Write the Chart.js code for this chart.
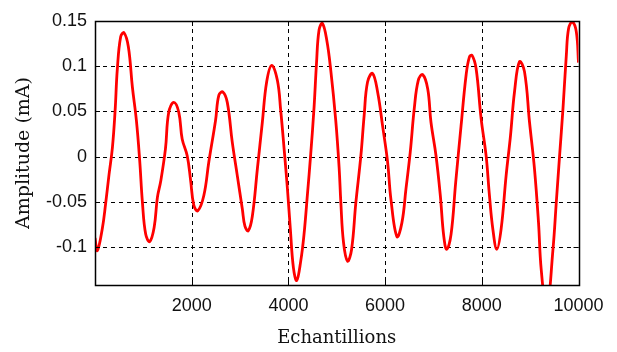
<!DOCTYPE html>
<html>
<head>
<meta charset="utf-8">
<script src="https://cdn.jsdelivr.net/npm/chart.js@4"></script>
<style>
html,body{margin:0;padding:0;background:#fff}
canvas{display:block}
</style>
</head>
<body>
<canvas id="chart" width="617" height="352"></canvas>
<script>
// DATA

const samples=[
0,48,150,220,290,360,415,462,531,600,690,773,856,924,980,1049,1132,1223,1291,1360,1457,1525,1629,1733,1803,1907,1975,2044,2126,2251,2354,
2493,2562,2645,2736,2839,2943,3047,3101,3171,3254,3358,3461,3550,3654,3772,3841,3909,3979,4040,4104,4172,4255,4323,4394,4462,4531,4581,4634,4704,4793,4876,
4979,5049,5084,5140,5223,5306,5395,5499,5567,5637,5741,5845,5948,6052,6120,6245,6348,6431,6520,6603,6686,6777,6881,6949,7053,7142,7213,7275,7364,
7460,7571,7675,7743,7799,7882,7986,8089,8158,8228,8311,8400,8503,8593,8676,8779,8883,8987,9090,9173,9229,9343,9472,9540,9609,9679,9748,9796,9872,9955,10000
]

const amplitude=[
-0.09,-0.104,-0.08,-0.052,-0.02,0.01,0.05,0.097,0.1326,0.137,0.1215,0.077,0.04,-0.004,-0.05,-0.086,-0.094,-0.0785,-0.045,-0.027,0.0085,0.049,0.06,0.049,0.0196,0.001,-0.025,-0.054,-0.06,-0.043,-0.006,
0.04,0.068,0.0715,0.06,0.016,-0.021,-0.058,-0.077,-0.082,-0.066,-0.0137,0.038,0.0826,0.101,0.0844,0.051,0.01,-0.035,-0.08,-0.123,-0.137,-0.1156,-0.086,-0.0415,0.003,0.0548,0.103,0.14,0.1474,0.129,0.0956,
0.04,-0.012,-0.05,-0.095,-0.1156,-0.103,-0.051,0.001,0.0456,0.0826,0.092,0.0715,0.034,-0.006,-0.047,-0.0885,-0.073,-0.036,0.005,0.053,0.0844,0.0907,0.075,0.038,0.001,-0.043,-0.088,-0.1026,-0.086,
-0.0285,0.034,0.09,0.11,0.112,0.0974,0.042,0.001,-0.043,-0.08,-0.1026,-0.08,-0.021,0.023,0.0715,0.105,0.094,0.038,-0.0137,-0.073,-0.125,-0.17,-0.1026,-0.051,0.001,0.053,0.112,0.1419,0.149,0.138,0.104
]

const xTicks=[2000,4000,6000,8000,10000]
const xGrid=[2000,4000,6000,8000]
const yTicks=[-0.1,-0.05,0,0.05,0.1,0.15]
const yTickLabels=["-0.1","-0.05","0","0.05","0.1","0.15"]
const yGrid=[-0.1,-0.05,0,0.05,0.1]


// MATLAB STYLE BOX, DASHED GRID, INWARD TICKS

const matlabAxes={

id:"matlabAxes",

beforeDatasetsDraw(chart){

const {ctx,chartArea:a,scales:{x,y}}=chart

ctx.save()
ctx.strokeStyle="#000"
ctx.lineWidth=1
ctx.setLineDash([4,4])
ctx.beginPath()

xGrid.forEach(v=>{
const px=Math.round(x.getPixelForValue(v))+0.5
ctx.moveTo(px,a.top)
ctx.lineTo(px,a.bottom)
})

yGrid.forEach(v=>{
const py=Math.round(y.getPixelForValue(v))+0.5
ctx.moveTo(a.left,py)
ctx.lineTo(a.right,py)
})

ctx.stroke()
ctx.restore()

},

afterDatasetsDraw(chart){

const {ctx,chartArea:a,scales:{x,y}}=chart
const len=5

ctx.save()
ctx.strokeStyle="#000"
ctx.lineWidth=1
ctx.beginPath()

xTicks.forEach(v=>{
const px=Math.round(x.getPixelForValue(v))+0.5
ctx.moveTo(px,a.bottom)
ctx.lineTo(px,a.bottom-len)
ctx.moveTo(px,a.top)
ctx.lineTo(px,a.top+len)
})

yTicks.forEach(v=>{
const py=Math.round(y.getPixelForValue(v))+0.5
ctx.moveTo(a.left,py)
ctx.lineTo(a.left+len,py)
ctx.moveTo(a.right,py)
ctx.lineTo(a.right-len,py)
})

ctx.stroke()

ctx.lineWidth=1.5
ctx.strokeRect(Math.round(a.left)+0.5,Math.round(a.top)+0.5,Math.round(a.right-a.left),Math.round(a.bottom-a.top))
ctx.restore()

}

}


// CHART

const tickFont={family:"'Liberation Sans', Arial, sans-serif",size:18}

new Chart(document.getElementById("chart"),{

type:"line",

data:{
datasets:[{
data:samples.map((s,i)=>({x:s,y:amplitude[i]})),
borderColor:"#ff0000",
borderWidth:2.8,
pointRadius:0,
fill:false,
tension:0.4
}]
},

options:{
responsive:false,
animation:false,
layout:{padding:{left:0,top:21,right:38.5,bottom:0}},
plugins:{legend:{display:false},tooltip:{enabled:false}},
scales:{
x:{
type:"linear",
min:0,
max:10000,
afterBuildTicks:s=>{s.ticks=xTicks.map(v=>({value:v}))},
afterFit:s=>{s.height=67},
grid:{display:false},
border:{display:false},
ticks:{font:tickFont,color:"#111",padding:2,maxRotation:0,autoSkip:false,callback:v=>String(v)},
title:{display:true,text:"Echantillions",color:"#111",font:{family:"'DejaVu Serif', serif",size:18},padding:{top:0,bottom:3}}
},
y:{
min:-0.142,
max:0.15,
afterBuildTicks:s=>{s.ticks=yTicks.map(v=>({value:v}))},
afterFit:s=>{s.width=95},
grid:{display:false},
border:{display:false},
ticks:{font:tickFont,color:"#111",padding:0,callback:v=>yTickLabels[yTicks.indexOf(v)]},
title:{display:true,text:"Amplitude (mA)",color:"#111",font:{family:"'DejaVu Serif', serif",size:19},padding:{top:13,bottom:0}}
}
}
},

plugins:[matlabAxes]

})
</script>
</body>
</html>
